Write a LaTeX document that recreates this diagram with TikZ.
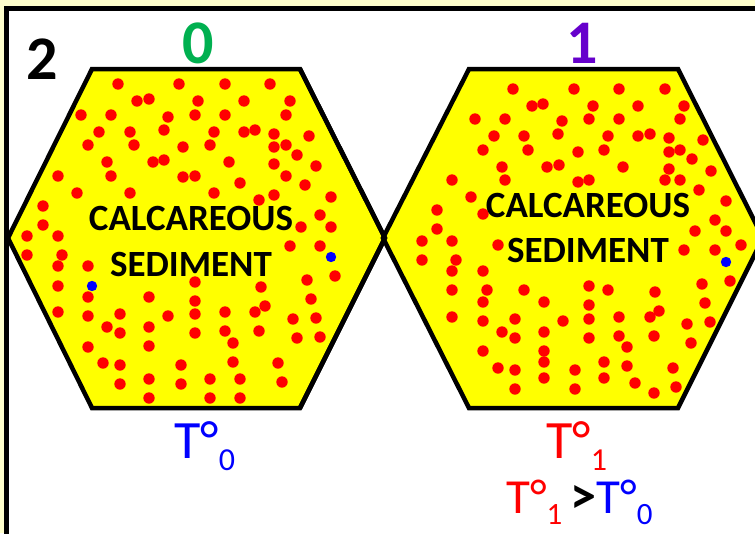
\documentclass[tikz,border=0pt]{standalone}
\usepackage{fontspec}
\setmainfont{Carlito}
\definecolor{cream}{HTML}{FFFFCC}
\definecolor{hexyellow}{HTML}{FFFF00}
\definecolor{dgreen}{HTML}{00B050}
\definecolor{dpurple}{HTML}{6600CC}
\newcommand{\subdigit}[1]{\raisebox{-12pt}[0pt][0pt]{\fontsize{32}{32}\selectfont #1}}
\newcommand{\subdigitb}[1]{\raisebox{-11pt}[0pt][0pt]{\fontsize{31}{31}\selectfont #1}}
\begin{document}
\begin{tikzpicture}[x=1pt,y=-1pt,
  hexbox/.style={fill=hexyellow,draw=black,line width=4.5pt},
  reddot/.style={fill=red},
  bluedot/.style={fill=blue},
  bigdigit/.style={font=\fontsize{62}{62}\selectfont\bfseries,inner sep=0pt,anchor=base},
  sedtext/.style={font=\fontsize{37}{37}\selectfont\bfseries,inner sep=0pt,anchor=base},
  templabel/.style={inner sep=0pt,anchor=base west}]
\useasboundingbox (0,0) rectangle (755,533);
\fill[cream] (0,0) rectangle (755,533);
\begin{scope}
\clip (0,0) rectangle (755,533);
\draw[fill=white,line width=5pt] (6.5,8.5) rectangle (780,560);
% hexagon 0
\draw[hexbox] (92,69) -- (300,69) -- (385,238) -- (300,408) -- (92,408) -- (8,238) -- cycle;
% hexagon 1
\draw[hexbox] (469,69) -- (678,69) -- (763,238) -- (678,408) -- (469,408) -- (383,238) -- cycle;
\draw[line width=4.5pt] (300,69) -- (385,238) -- (300,408);
% red dots, hexagon 0
\foreach \p in {(118,84),(179,84),(225,84),(270,84),
(137,101),(149,99),(198,101),(244,101),(290,101),
(81,115),(111,115),(168,117),(195,115),(225,115),(286,115),
(99,132),(130,132),(164,130),(214,132),(244,132),(255,130),(274,134),(309,136),
(88,145),(134,145),(183,147),(210,145),(274,147),(286,145),(297,155),
(107,162),(153,162),(164,160),(229,162),(274,164),(316,166),
(58,176),(111,176),(183,177),(195,176),(286,176),(240,183),(305,185),
(77,193),(130,193),(214,193),(259,200),(274,195),(331,197),
(43,206),(320,215),
(43,225),(301,227),(331,227),
(27,236),(58,236),(290,246),(320,246),
(27,255),(62,255),
(58,266),(88,266),
(58,286),(88,297),(58,312),(88,316),(120,314),(107,327),(120,333),(88,347),(103,363),(120,365),(120,384),
(149,297),(149,327),(149,346),(149,379),(149,398),
(168,316),(181,365),(181,384),
(195,282),(195,301),(195,314),(195,333),
(225,312),(225,331),(233,343),(233,362),(210,379),(210,398),(240,379),(240,398),
(261,287),(265,306),(255,312),(259,331),(278,363),(282,382),
(307,280),(311,299),(316,318),(320,337),(293,319),(297,338),(335,276)}
  \fill[reddot] \p circle (5.7);
% red dots, hexagon 1
\foreach \p in {(513,89),(574,89),(619,89),(665,89),
(532,106),(543,104),(593,106),(638,106),(684,106),
(475,119),(505,119),(562,121),(589,119),(619,119),(680,119),
(494,136),(524,136),(558,134),(608,136),(638,136),(650,134),(669,138),(703,140),
(483,150),(528,150),(578,152),(604,150),(669,152),(680,150),(692,159),
(502,167),(547,167),(559,165),(623,167),(669,169),(711,171),
(452,180),(505,180),(578,182),(589,180),(665,180),(680,180),(699,190),
(471,197),(483,214),(726,201),
(437,210),(437,229),(715,220),(726,231),(695,231),
(422,241),(452,241),(498,245),(684,250),(715,250),(741,245),
(422,260),(456,260),(452,271),(483,271),(452,290),(487,290),(483,302),(452,317),(483,321),(502,332),(483,351),(498,368),
(515,319),(515,338),(515,370),(515,389),
(524,290),(544,302),(544,332),(544,351),(544,362),(544,378),
(563,321),(575,370),(575,389),
(589,286),(589,305),(589,319),(589,338),(608,290),(619,317),(619,336),(627,347),(627,366),(604,362),(604,378),(635,383),(654,393),
(655,292),(659,311),(650,317),(654,336),(673,368),(676,387),
(702,284),(705,303),(710,322),(687,324),(691,343),(730,281)}
  \fill[reddot] \p circle (5.7);
% blue dots
\foreach \p in {(92,286),(331,257),(726,262)}
  \fill[bluedot] \p circle (5.2);
\end{scope}
% texts
\node[bigdigit] (two) at (42,79) {2};
\node[bigdigit,text=dgreen] (zero) at (198,63) {0};
\node[bigdigit,text=dpurple] (one) at (582,63) {1};
\node[sedtext] (calc0) at (191,230) {CALCAREOUS};
\node[sedtext] (sed0) at (191,276) {SEDIMENT};
\node[sedtext] (calc1) at (588,217) {CALCAREOUS};
\node[sedtext] (sed1) at (588,262) {SEDIMENT};
\node[templabel,text=blue] (t0) at (174,458) {\fontsize{54}{54}\selectfont T°\subdigit{0}};
\node[templabel,text=red] (t1) at (546,458) {\fontsize{54}{54}\selectfont T°\subdigit{1}};
\node[templabel] (cmp) at (506,513) {\fontsize{49}{49}\selectfont\textcolor{red}{T°\subdigitb{1}}\,{\fontsize{52}{52}\selectfont\bfseries >}\textcolor{blue}{T°\subdigitb{0}}};
\end{tikzpicture}
\end{document}
